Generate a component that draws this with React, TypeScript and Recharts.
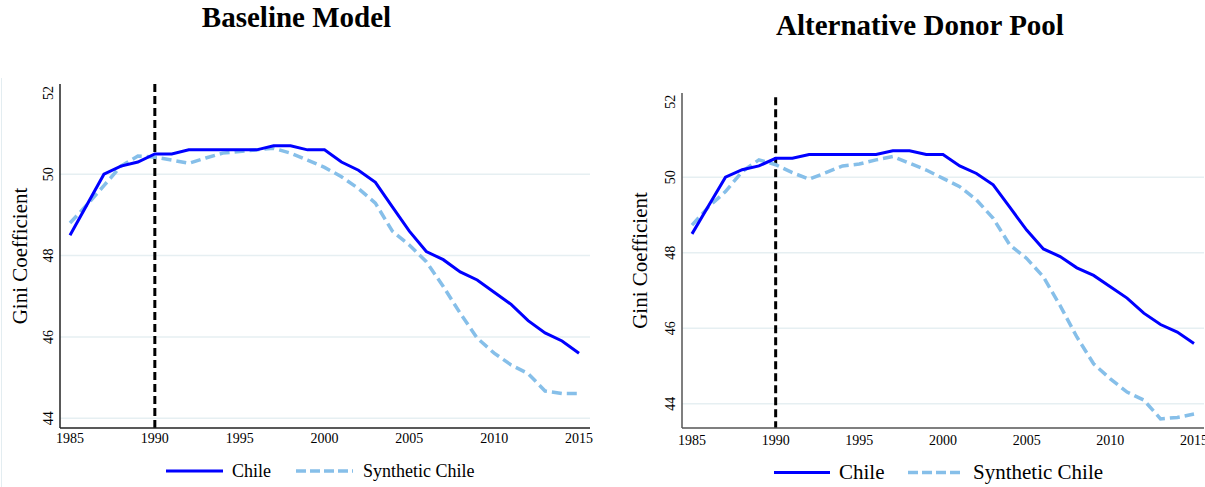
import React from 'react';
import { LineChart, Line, XAxis, YAxis, ReferenceLine, Label } from 'recharts';

const years = [1985, 1986, 1987, 1988, 1989, 1990, 1991, 1992, 1993, 1994, 1995, 1996, 1997, 1998, 1999, 2000, 2001, 2002, 2003, 2004, 2005, 2006, 2007, 2008, 2009, 2010, 2011, 2012, 2013, 2014, 2015];
const chile = [48.5, 49.25, 50.0, 50.2, 50.3, 50.5, 50.5, 50.6, 50.6, 50.6, 50.6, 50.6, 50.7, 50.7, 50.6, 50.6, 50.3, 50.1, 49.8, 49.2, 48.6, 48.1, 47.9, 47.6, 47.4, 47.1, 46.8, 46.4, 46.1, 45.9, 45.6];
const synthBaseline = [48.8, 49.25, 49.72, 50.2, 50.45, 50.42, 50.35, 50.27, 50.4, 50.52, 50.56, 50.6, 50.64, 50.52, 50.35, 50.17, 49.94, 49.65, 49.29, 48.6, 48.26, 47.85, 47.24, 46.58, 45.97, 45.6, 45.31, 45.1, 44.67, 44.61, 44.61];
const synthAlt = [48.73, 49.22, 49.62, 50.15, 50.46, 50.33, 50.12, 49.95, 50.12, 50.3, 50.35, 50.46, 50.55, 50.37, 50.19, 49.97, 49.75, 49.4, 48.91, 48.2, 47.85, 47.36, 46.6, 45.77, 45.06, 44.66, 44.31, 44.1, 43.6, 43.64, 43.73];
const xTicks = [1985, 1990, 1995, 2000, 2005, 2010, 2015];
const yTicks = [44, 46, 48, 50, 52];
const gridValues = [44, 46, 48, 50];
const treatmentYear = 1990;
const titles = ['Baseline Model', 'Alternative Donor Pool'];
const seriesNames = ['Chile', 'Synthetic Chile'];
const yLabel = 'Gini Coefficient';

const FONT = '"Liberation Serif", "Times New Roman", serif';
const CHILE_COLOR = '#0000ff';
const SYNTH_COLOR = '#86bfe9';
const GRID_COLOR = '#e6eff2';

const baselineData = years.map((y, i) => ({ year: y, chile: chile[i], synth: synthBaseline[i] }));
const altData = years.map((y, i) => ({ year: y, chile: chile[i], synth: synthAlt[i] }));

type PanelProps = {
  data: any[];
  left: number;
  width: number;
  height: number;
  margin: { top: number; right: number; bottom: number; left: number };
  yAxisWidth: number;
  yDomain: [number, number];
  xPadding: { left: number; right: number };
  axisColor: string;
  xTickSize: number;
  xTickMargin: number;
  refTop: number;
};

const YTick = (props: any) => {
  const { x, y, payload } = props;
  const bx = x + 1.5;
  return (
    <text x={bx} y={y} transform={`rotate(-90 ${bx} ${y})`} textAnchor="middle" fontFamily={FONT} fontSize={14} fill="#000">
      {payload.value}
    </text>
  );
};

const Panel = (p: PanelProps) => (
  <div style={{ position: 'absolute', left: p.left, top: 0 }}>
    <LineChart width={p.width} height={p.height} data={p.data} margin={p.margin}>
      {gridValues.map((g) => (
        <ReferenceLine key={g} y={g} stroke={GRID_COLOR} strokeWidth={1.5} ifOverflow="extendDomain" />
      ))}
      <XAxis
        dataKey="year"
        type="number"
        domain={[1985, 2015]}
        ticks={xTicks}
        interval={0}
        padding={p.xPadding}
        tickLine={false}
        tickSize={p.xTickSize}
        tickMargin={p.xTickMargin}
        axisLine={{ stroke: p.axisColor, strokeWidth: 1.5 }}
        tick={{ fontFamily: FONT, fontSize: 14, fill: '#000' }}
        height={30}
      />
      <YAxis
        type="number"
        domain={p.yDomain}
        allowDataOverflow
        ticks={yTicks}
        interval={0}
        width={p.yAxisWidth}
        tickLine={false}
        axisLine={{ stroke: p.axisColor, strokeWidth: 1.5 }}
        tick={<YTick />}
      >
        <Label
          content={(lp: any) => {
            const vb = lp.viewBox || {};
            const cx = vb.x + 27;
            const cy = vb.y + vb.height / 2;
            return (
              <text x={cx} y={cy} transform={`rotate(-90 ${cx} ${cy})`} textAnchor="middle" fontFamily={FONT} fontSize={21} fill="#000">
                {yLabel}
              </text>
            );
          }}
        />
      </YAxis>
      <ReferenceLine
        segment={[{ x: treatmentYear, y: p.refTop }, { x: treatmentYear, y: p.yDomain[0] }]}
        stroke="#000"
        strokeWidth={3}
        strokeDasharray="8 4"
      />
      <Line type="linear" dataKey="synth" stroke={SYNTH_COLOR} strokeWidth={3.5} strokeDasharray="10 5" dot={false} isAnimationActive={false} />
      <Line type="linear" dataKey="chile" stroke={CHILE_COLOR} strokeWidth={3} dot={false} isAnimationActive={false} />
    </LineChart>
  </div>
);

const LegendRow = ({ x0, y, fontSize, l1, t1, l2, t2, len }: any) => (
  <g>
    <line x1={x0} x2={x0 + len} y1={y} y2={y} stroke={CHILE_COLOR} strokeWidth={3} />
    <text x={t1} y={y + fontSize * 0.33} fontFamily={FONT} fontSize={fontSize} fill="#000">{seriesNames[0]}</text>
    <line x1={l2} x2={l2 + len} y1={y} y2={y} stroke={SYNTH_COLOR} strokeWidth={3.5} strokeDasharray="10 4" />
    <text x={t2} y={y + fontSize * 0.33} fontFamily={FONT} fontSize={fontSize} fill="#000">{seriesNames[1]}</text>
  </g>
);

export default function App() {
  return (
    <div style={{ position: 'absolute', left: 0, top: 0, width: 1205, height: 487, background: '#fff', overflow: 'hidden' }}>
      <div style={{ position: 'absolute', left: 1, top: 78, width: 1, height: 409, background: '#e3edf1' }} />
      <Panel
        data={baselineData}
        left={0}
        width={600}
        height={487}
        margin={{ top: 84, right: 10, bottom: 29, left: 0 }}
        yAxisWidth={60}
        yDomain={[43.76, 52.22]}
        xPadding={{ left: 10, right: 11 }}
        axisColor="#222"
        xTickSize={3}
        xTickMargin={2}
        refTop={52.22}
      />
      <Panel
        data={altData}
        left={620}
        width={585}
        height={487}
        margin={{ top: 93, right: 1, bottom: 29, left: 0 }}
        yAxisWidth={62}
        yDomain={[43.36, 52.23]}
        xPadding={{ left: 10, right: 10 }}
        axisColor="#555"
        xTickSize={6}
        xTickMargin={1}
        refTop={52.12}
      />
      <svg width={1205} height={487} style={{ position: 'absolute', left: 0, top: 0, pointerEvents: 'none' }}>
        <text x={296.5} y={27} textAnchor="middle" fontFamily={FONT} fontWeight="bold" fontSize={29} fill="#000">{titles[0]}</text>
        <text x={920} y={35} textAnchor="middle" fontFamily={FONT} fontWeight="bold" fontSize={29} fill="#000">{titles[1]}</text>
        <LegendRow x0={166} y={471} fontSize={18} t1={232} l2={296} t2={363} len={57} />
        <LegendRow x0={774} y={472.5} fontSize={21} t1={839} l2={908} t2={973} len={56} />
      </svg>
    </div>
  );
}
